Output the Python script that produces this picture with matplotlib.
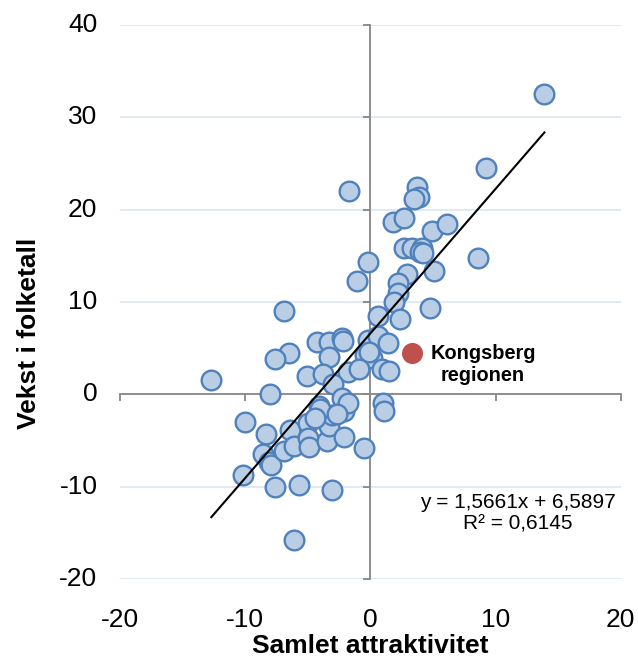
import matplotlib

matplotlib.use("Agg")
import matplotlib.pyplot as plt
import numpy as np

plt.rcParams["font.family"] = ["Liberation Sans", "DejaVu Sans"]

# regions: attractiveness score vs population growth
attr = [13.9, 9.2, 3.7, 3.9, 3.5, -1.7, 1.8, 2.7, 4.9, 6.1,
        2.7, 3.3, 4.1, 4.0, 4.2, 8.6, -0.2, -1.1, 2.9, 2.2,
        5.1, 2.2, 1.9, 4.8, 0.6, 2.4, -6.9,
        -4.3, -3.3, -2.3, -2.2, -0.2, 0.6, 1.4, -6.5, -7.6,
        -3.3, -0.4, 0.1, -0.1, -5.1, -3.8, -1.8, -0.9, 0.9,
        1.5, -3.0, -12.7, -8.0, 1.0, 1.1,
        -10.0, -8.3, -8.6, -8.1, -7.9, -10.2, -7.6, -5.7, -3.1,
        -6.4, -6.9, -6.1, -5.0, -5.0, -4.9, -4.1, -3.8, -3.5,
        -3.3, -3.1, -2.3, -2.1, -1.8, -2.1, -0.5, -6.1, -4.0,
        -4.4, -2.7]
growth = [32.5, 24.5, 22.5, 21.4, 21.1, 22.0, 18.7, 19.1, 17.7, 18.4,
          15.8, 15.8, 15.9, 15.4, 15.3, 14.8, 14.3, 12.3, 13.0, 12.1,
          13.4, 11.0, 10.0, 9.4, 8.5, 8.2, 9.0,
          5.7, 5.7, 6.1, 5.8, 5.9, 6.3, 5.6, 4.5, 3.8,
          4.0, 4.3, 3.9, 4.6, 2.0, 2.2, 2.4, 2.7, 2.7,
          2.5, 1.1, 1.6, 0.0, -0.9, -1.8,
          -3.0, -4.3, -6.5, -7.3, -7.7, -8.7, -10.0, -9.8, -10.4,
          -3.9, -6.1, -5.6, -3.1, -4.7, -5.7, -1.3, -2.7, -5.1,
          -3.4, -2.2, -0.4, -1.8, -0.9, -4.6, -5.8, -15.8, -1.6,
          -2.6, -2.1]

kongsberg_x, kongsberg_y = 3.3, 4.5
slope, intercept, r2 = 1.5661, 6.5897, 0.6145

x_ticks = [-20, -10, 0, 10, 20]
y_ticks = [-20, -10, 0, 10, 20, 30, 40]

fig = plt.figure(figsize=(6.38, 6.59), dpi=100)
ax = fig.add_axes([0.188, 0.1214, 0.785, 0.8407])
ax.set_xlim(-20, 20)
ax.set_ylim(-20, 40)

# light horizontal gridlines, axes crossing at origin
for yv in y_ticks:
    if yv != 0:
        ax.axhline(yv, color="#DCE6F2", lw=1.2, zorder=0)

for side in ("top", "right"):
    ax.spines[side].set_visible(False)
ax.spines["left"].set_position(("data", 0))
ax.spines["bottom"].set_position(("data", 0))
for side in ("left", "bottom"):
    ax.spines[side].set_color("#868686")
    ax.spines[side].set_linewidth(1.3)
    ax.spines[side].set_zorder(1)
ax.set_xticks(x_ticks)
ax.set_yticks(y_ticks)
ax.tick_params(direction="out", length=5, width=1.3, color="#868686",
               labelleft=False, labelbottom=False)

# tick labels sit at the outer edges of the plot
for xv in x_ticks:
    ax.text(xv, -24.4, f"{xv}", ha="center", va="center", fontsize=19)
for yv in y_ticks:
    ax.text(-21.8, yv, f"{yv}", ha="right", va="center", fontsize=19)

ax.scatter(attr, growth, s=200, facecolor="#B9CDE5", edgecolor="#4F81BD",
           linewidth=1.7, zorder=3)
ax.scatter([kongsberg_x], [kongsberg_y], s=200, color="#C0504D", zorder=4)
ax.text(9.0, 3.25, "Kongsberg\nregionen", ha="center", va="center",
        fontsize=14.4, fontweight="bold", linespacing=1.2)

xs = np.array([min(attr), max(attr)])
ax.plot(xs, slope * xs + intercept, color="black", lw=1.5, zorder=5)
ax.text(11.8, -12.9, f"y = {slope:.4f}x + {intercept:.4f}\nR² = {r2:.4f}".replace(".", ","),
        ha="center", va="center", fontsize=15, linespacing=1.15)

ax.text(0, -27.3, "Samlet attraktivitet", ha="center", va="center",
        fontsize=19, fontweight="bold")
ax.text(-27.3, 6.6, "Vekst i folketall", ha="center", va="center",
        rotation=90, fontsize=19, fontweight="bold")

fig.savefig("out.png", dpi=100)
